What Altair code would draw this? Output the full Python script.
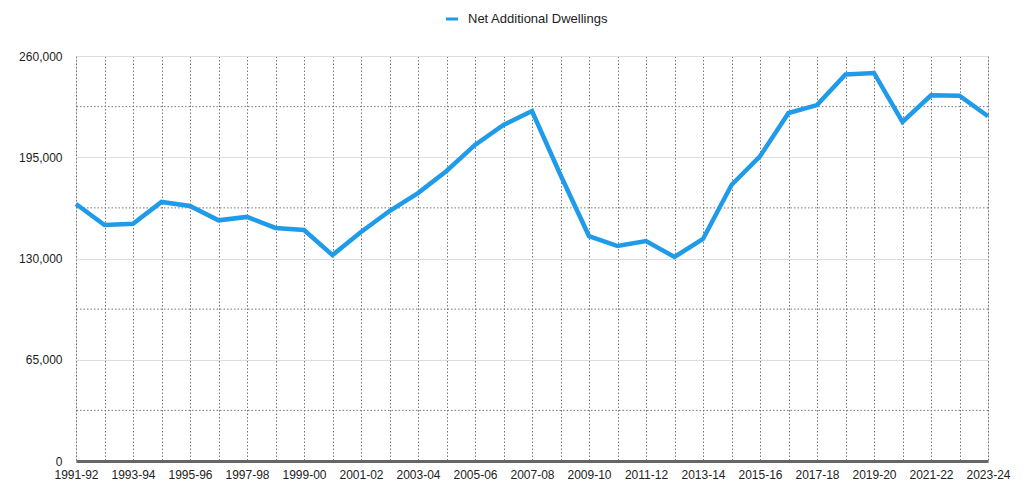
import altair as alt
import pandas as pd

years = [
    "1991-92", "1992-93", "1993-94", "1994-95", "1995-96", "1996-97", "1997-98",
    "1998-99", "1999-00", "2000-01", "2001-02", "2002-03", "2003-04", "2004-05",
    "2005-06", "2006-07", "2007-08", "2008-09", "2009-10", "2010-11", "2011-12",
    "2012-13", "2013-14", "2014-15", "2015-16", "2016-17", "2017-18", "2018-19",
    "2019-20", "2020-21", "2021-22", "2022-23", "2023-24",
]
net_additional_dwellings = [
    165000, 151500, 152300, 166300, 163700, 154500, 156700,
    149600, 148300, 132200, 147000, 160500, 172000, 186200,
    202900, 215700, 224700, 183600, 144400, 138000, 141200,
    131000, 142500, 177200, 195600, 223400, 228500, 248100,
    249100, 217700, 234800, 234500, 221300,
]
series_name = "Net Additional Dwellings"
y_major = [0, 65000, 130000, 195000, 260000]
y_minor = [32500, 97500, 162500, 227500]

df = pd.DataFrame({"year": years, "value": net_additional_dwellings, "series": series_name})
minor_df = pd.DataFrame({"v": y_minor})

x_scale = alt.Scale(type="point", padding=0, domain=years)
y_scale = alt.Scale(domain=[0, 260000], nice=False)

line = alt.Chart(df).mark_line(strokeWidth=4.5, strokeJoin="miter").encode(
    x=alt.X(
        "year:N",
        scale=x_scale,
        sort=years,
        title=None,
        axis=alt.Axis(
            labelAngle=0,
            labelExpr="parseInt(substring(datum.value,0,4)) % 2 == 1 ? datum.value : ''",
            grid=True,
            gridDash=[1.5, 2],
            gridColor="#777777",
            gridWidth=1,
            ticks=False,
            domain=True,
            domainColor="#666666",
            domainWidth=3,
            labelFont="Liberation Sans",
            labelFontSize=12,
            labelColor="#222222",
            labelPadding=8,
            labelOverlap=False,
        ),
    ),
    y=alt.Y(
        "value:Q",
        scale=y_scale,
        title=None,
        axis=alt.Axis(
            values=y_major,
            format=",.0f",
            grid=True,
            gridColor="#dddddd",
            gridWidth=1,
            ticks=False,
            domain=False,
            labelFont="Liberation Sans",
            labelFontSize=12,
            labelColor="#222222",
            labelPadding=14,
        ),
    ),
    color=alt.Color(
        "series:N",
        scale=alt.Scale(range=["#1f9bea"]),
        legend=alt.Legend(
            title=None,
            orient="none",
            legendX=368,
            legendY=-45,
            symbolType="stroke",
            symbolStrokeWidth=3,
            symbolSize=150,
            labelFont="Liberation Sans",
            labelFontSize=13,
            labelColor="#222222",
            labelOffset=8,
        ),
    ),
)

minor = alt.Chart(minor_df).mark_rule(
    strokeDash=[1.5, 2], color="#777777", strokeWidth=1
).encode(y=alt.Y("v:Q", scale=y_scale))

chart = alt.layer(minor, line).properties(
    width=912,
    height=405,
    autosize=alt.AutoSizeParams(type="none"),
    padding={"left": 68, "top": 48, "right": 26, "bottom": 30},
).configure_view(stroke=None).configure(background="white")

chart.save("out.html", embed_options={"renderer": "svg", "actions": False})
